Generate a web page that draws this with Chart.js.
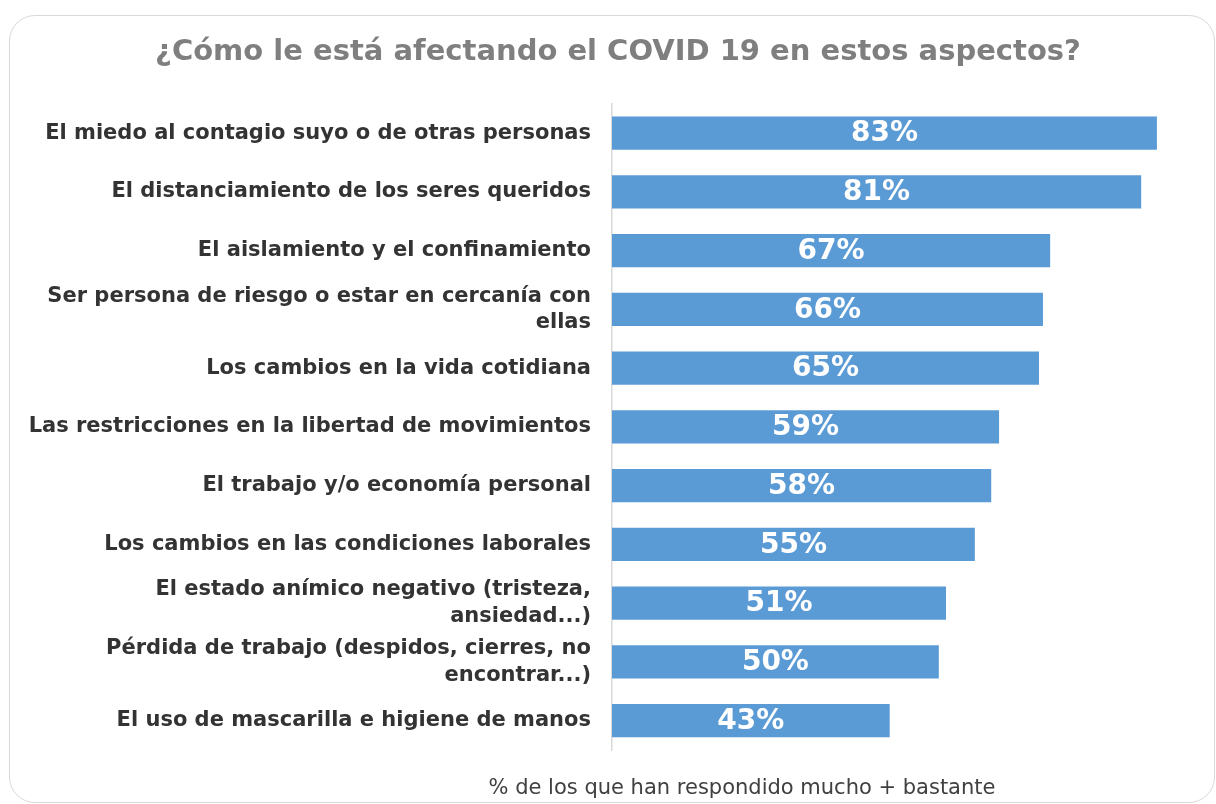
<!DOCTYPE html>
<html>
<head>
<meta charset="utf-8">
<script src="https://cdn.jsdelivr.net/npm/chart.js@4"></script>
<style>
  html, body { margin: 0; padding: 0; background: #fff; }
  body { width: 1216px; height: 804px; position: relative; overflow: hidden; }
  #box {
    position: absolute; left: 9px; top: 15px; width: 1206px; height: 788px;
    border: 1.5px solid #d9d9d9; border-radius: 26px; box-sizing: border-box;
  }
  #wrap { position: absolute; left: 9px; top: 15px; width: 1218px; height: 789px; }
  #note {
    position: absolute; top: 775px; left: 442px; width: 600px; text-align: center;
    font-family: "DejaVu Sans", Verdana, sans-serif; font-size: 21px; color: #404040;
  }
</style>
</head>
<body>
<div id="box"></div>
<div id="wrap"><canvas id="chart"></canvas></div>
<div id="note">% de los que han respondido mucho + bastante</div>
<script>
// categories (top to bottom) and values
const categories = [
    'El miedo al contagio suyo o de otras personas',
    'El distanciamiento de los seres queridos',
    'El aislamiento y el confinamiento',
    ['Ser persona de riesgo o estar en cercanía con', 'ellas'],
    'Los cambios en la vida cotidiana',
    'Las restricciones en la libertad de movimientos',
    'El trabajo y/o economía personal',
    'Los cambios en las condiciones laborales',
    ['El estado anímico negativo (tristeza,', 'ansiedad...)'],
    ['Pérdida de trabajo (despidos, cierres, no', 'encontrar...)'],
    'El uso de mascarilla e higiene de manos'
];
const values = [83.2, 80.8, 66.9, 65.8, 65.2, 59.1, 57.9, 55.4, 51.0, 49.9, 42.4];
const barLabels = ['83%', '81%', '67%', '66%', '65%', '59%', '58%', '55%', '51%', '50%', '43%'];

// draw white percentage labels centred inside each bar
const barLabelPlugin = {
    id: 'barLabels',
    afterDatasetsDraw(chart) {
        const ctx = chart.ctx;
        const meta = chart.getDatasetMeta(0);
        ctx.save();
        ctx.font = 'bold 28px "DejaVu Sans", Verdana, sans-serif';
        ctx.fillStyle = '#ffffff';
        ctx.textAlign = 'center';
        ctx.textBaseline = 'middle';
        meta.data.forEach((bar, i) => {
            const cx = (bar.x + bar.base) / 2;
            ctx.fillText(barLabels[i], cx, bar.y + 1);
        });
        ctx.restore();
    }
};

const ctx = document.getElementById('chart').getContext('2d');
new Chart(ctx, {
    type: 'bar',
    data: {
        labels: categories,
        datasets: [{
            data: values,
            backgroundColor: '#5b9bd5',
            borderWidth: 0,
            categoryPercentage: 1,
            barPercentage: 0.565
        }]
    },
    options: {
        indexAxis: 'y',
        responsive: true,
        maintainAspectRatio: false,
        animation: false,
        layout: { padding: { left: 0, right: 0, top: 0, bottom: 54 } },
        plugins: {
            legend: { display: false },
            tooltip: { enabled: false },
            title: {
                display: true,
                text: '¿Cómo le está afectando el COVID 19 en estos aspectos?',
                color: '#7f7f7f',
                font: { family: '"DejaVu Sans", Verdana, sans-serif', size: 29, weight: 'bold', lineHeight: 1.2 },
                padding: { top: 20, bottom: 34 }
            }
        },
        scales: {
            x: {
                display: false,
                min: 0,
                max: 93.9
            },
            y: {
                afterFit(scale) { scale.width = 603; },
                grid: { display: false, drawTicks: false },
                border: { display: true, color: '#d9d9d9', width: 1.5 },
                ticks: {
                    padding: 21,
                    color: '#333333',
                    font: { family: '"DejaVu Sans", Verdana, sans-serif', size: 21, weight: 'bold', lineHeight: 1.26 }
                }
            }
        }
    },
    plugins: [barLabelPlugin]
});
</script>
</body>
</html>
